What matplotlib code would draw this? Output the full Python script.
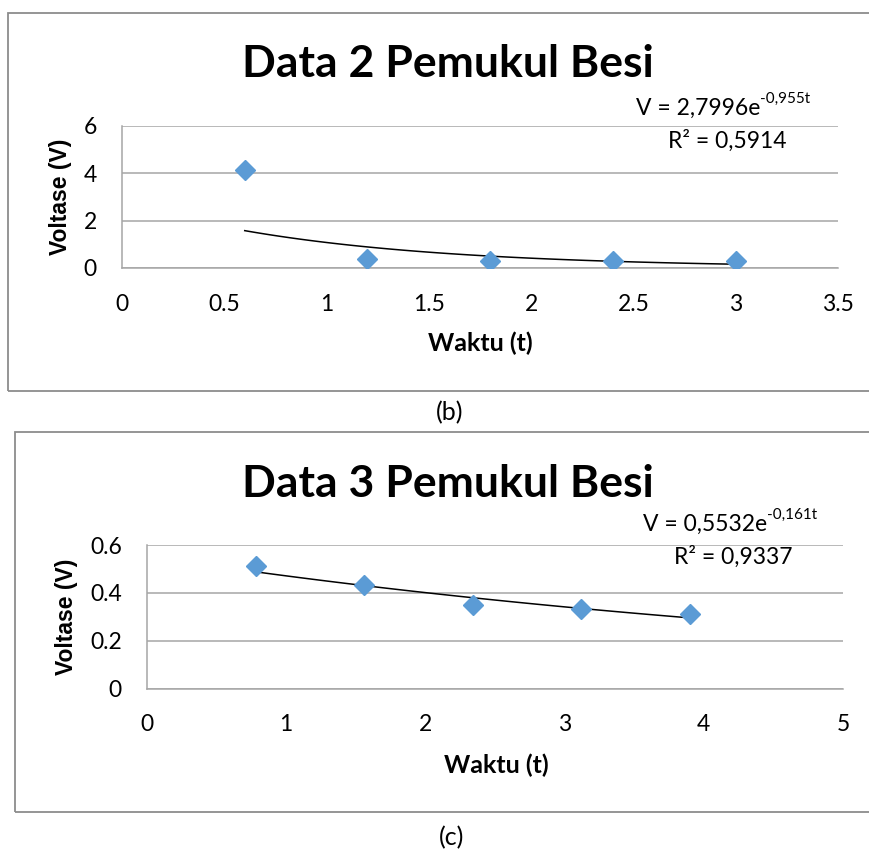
import numpy as np
import matplotlib
matplotlib.use('Agg')
import matplotlib.pyplot as plt
from matplotlib.patches import Rectangle
from matplotlib.ticker import FormatStrFormatter

plt.rcParams['font.family'] = ['Lato', 'DejaVu Sans']

# data
waktu_2 = [0.6, 1.2, 1.8, 2.4, 3.0]
volt_2 = [4.14, 0.38, 0.28, 0.28, 0.28]
fit_a2, fit_b2 = 2.7996, -0.955

waktu_3 = [0.78, 1.56, 2.34, 3.12, 3.9]
volt_3 = [0.512, 0.431, 0.351, 0.333, 0.312]
fit_a3, fit_b3 = 0.5532, -0.161

W, H = 870, 850
fig = plt.figure(figsize=(W / 100, H / 100), dpi=100)

def px_axes(x0, x1, y0, y1):
    # pixel box (top-left origin) -> figure axes
    return fig.add_axes([x0 / W, 1 - y1 / H, (x1 - x0) / W, (y1 - y0) / H])

def border(x0, y0, x1, y1):
    fig.patches.append(Rectangle((x0 / W, 1 - y1 / H), (x1 - x0) / W, (y1 - y0) / H,
                                 transform=fig.transFigure, fill=False,
                                 edgecolor='#8c8c8c', linewidth=1.3))

def panel(ax, x, y, a, b, xmax, xstep, ymax, ystep, eq, sup, r2, eq_pos, r2_pos):
    ax.plot(x, y, linestyle='none', marker='D', markersize=9.8,
            color='#5b9bd5', zorder=3)
    t = np.linspace(x[0], x[-1], 100)
    ax.plot(t, a * np.exp(b * t), color='black', linewidth=1.1, zorder=2)
    ax.set_xlim(0, xmax)
    ax.set_ylim(0, ymax)
    ax.set_xticks(np.arange(0, xmax + 1e-9, xstep))
    ax.set_yticks(np.arange(0, ymax + 1e-9, ystep))
    ax.xaxis.set_major_formatter(FormatStrFormatter('%g'))
    ax.yaxis.set_major_formatter(FormatStrFormatter('%g'))
    ax.tick_params(length=0, labelsize=16.5)
    ax.tick_params(axis='x', pad=18.5)
    ax.tick_params(axis='y', pad=18)
    ax.grid(axis='y', color='#a6a6a6', linewidth=1.1)
    for s in ['top', 'right']:
        ax.spines[s].set_visible(False)
    for s in ['left', 'bottom']:
        ax.spines[s].set_color('#a6a6a6')
        ax.spines[s].set_linewidth(1.1)
    ax.set_axisbelow(True)
    main = ax.text(eq_pos[0], eq_pos[1], eq, transform=ax.transAxes, ha='left',
                   va='center', fontsize=16.5)
    ax.annotate(sup, xy=(1, 0.62), xycoords=main, ha='left', va='bottom',
                fontsize=11)
    ax.text(r2_pos[0], r2_pos[1], r2, transform=ax.transAxes, ha='center',
            va='center', fontsize=16.5)

# panel (b)
border(8, 13, 880, 391)
ax1 = px_axes(122, 838, 126, 268)
panel(ax1, waktu_2, volt_2, fit_a2, fit_b2, 3.5, 0.5, 6, 2,
      'V = 2,7996e', '-0,955t', 'R² = 0,5914', (0.718, 1.125), (0.845, 0.895))
fig.text(448 / W, 1 - 64 / H, 'Data 2 Pemukul Besi', ha='center', va='center',
         fontsize=32, fontweight='bold')
fig.text(61 / W, 1 - 197 / H, 'Voltase (V)', rotation=90, ha='center', va='center',
         fontsize=16.5, fontweight='bold', family='Liberation Sans')
fig.text(480 / W, 1 - 343 / H, 'Waktu (t)', ha='center', va='center',
         fontsize=18, fontweight='bold')
fig.text(450 / W, 1 - 413 / H, '(b)', ha='center', va='center', fontsize=18)

# panel (c)
border(15, 432, 880, 812)
ax2 = px_axes(147, 843, 545, 688.5)
panel(ax2, waktu_3, volt_3, fit_a3, fit_b3, 5, 1, 0.6, 0.2,
      'V = 0,5532e', '-0,161t', 'R² = 0,9337', (0.712, 1.145), (0.842, 0.916))
fig.text(448 / W, 1 - 484 / H, 'Data 3 Pemukul Besi', ha='center', va='center',
         fontsize=32, fontweight='bold')
fig.text(67 / W, 1 - 617 / H, 'Voltase (V)', rotation=90, ha='center', va='center',
         fontsize=16.5, fontweight='bold', family='Liberation Sans')
fig.text(496 / W, 1 - 765 / H, 'Waktu (t)', ha='center', va='center',
         fontsize=18, fontweight='bold')
fig.text(452 / W, 1 - 838 / H, '(c)', ha='center', va='center', fontsize=18)

fig.savefig('out.png', dpi=100)
